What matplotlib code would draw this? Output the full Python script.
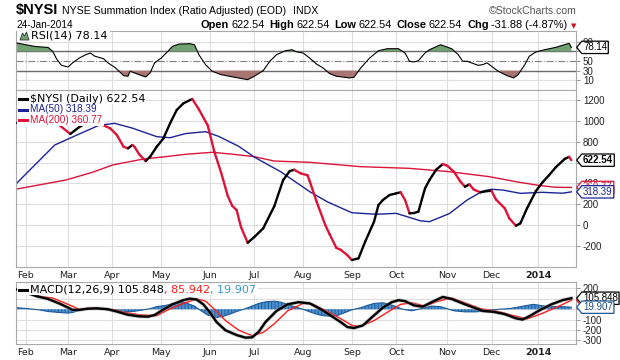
import numpy as np
import pandas as pd
import matplotlib
matplotlib.use("Agg")
import matplotlib.pyplot as plt
from matplotlib.collections import LineCollection
from matplotlib.path import Path
from matplotlib.patches import Polygon, Rectangle

# ---- data ----
holidays = ["2013-02-18", "2013-03-29", "2013-05-27", "2013-07-04", "2013-09-02",
            "2013-11-28", "2013-12-25", "2014-01-01", "2014-01-20"]

month_starts = ["2013-02-01", "2013-03-01", "2013-04-01", "2013-05-01", "2013-06-03",
                "2013-07-01", "2013-08-01", "2013-09-03", "2013-10-01", "2013-11-01",
                "2013-12-02", "2014-01-02"]
month_labels = ["Feb", "Mar", "Apr", "May", "Jun", "Jul", "Aug", "Sep", "Oct", "Nov",
                "Dec", "2014"]

price_dates = ["2013-01-28", "2013-02-06", "2013-02-14", "2013-02-25", "2013-03-04",
               "2013-03-08", "2013-03-15", "2013-03-21", "2013-03-28", "2013-04-03",
               "2013-04-08", "2013-04-10", "2013-04-12", "2013-04-15", "2013-04-17",
               "2013-04-22", "2013-04-24", "2013-04-29", "2013-05-02", "2013-05-07",
               "2013-05-10", "2013-05-15", "2013-05-21", "2013-05-24", "2013-05-31",
               "2013-06-05", "2013-06-10", "2013-06-13", "2013-06-17", "2013-06-19",
               "2013-06-21", "2013-06-26", "2013-07-01", "2013-07-08", "2013-07-15",
               "2013-07-19", "2013-07-24", "2013-07-26", "2013-07-31", "2013-08-05",
               "2013-08-06", "2013-08-09", "2013-08-15", "2013-08-19", "2013-08-22",
               "2013-08-26", "2013-08-29", "2013-09-03", "2013-09-06", "2013-09-11",
               "2013-09-17", "2013-09-19", "2013-09-23", "2013-09-26", "2013-10-01",
               "2013-10-03", "2013-10-07", "2013-10-09", "2013-10-11", "2013-10-15",
               "2013-10-18", "2013-10-22", "2013-10-25", "2013-10-30", "2013-11-01",
               "2013-11-06", "2013-11-11", "2013-11-13", "2013-11-15", "2013-11-19",
               "2013-11-22", "2013-11-27", "2013-12-02", "2013-12-04", "2013-12-10",
               "2013-12-12", "2013-12-17", "2013-12-19", "2013-12-24", "2013-12-31",
               "2014-01-06", "2014-01-09", "2014-01-14", "2014-01-21", "2014-01-23",
               "2014-01-24"]
price = [980, 1040, 1010, 960, 874, 940, 1000, 975, 928, 864,
         752, 736, 768, 750, 680, 614, 656, 752, 832, 976,
         1104, 1168, 1210, 1110, 955, 700, 505, 280, 185, 144,
         -20, -170, -115, -32, 180, 432, 518, 530, 495, 478,
         420, 230, 0, -90, -220, -238, -290, -336, -320, -160,
         32, 192, 240, 288, 304, 314, 240, 112, 115, 128,
         352, 432, 530, 585, 570, 512, 416, 368, 390, 340,
         314, 326, 328, 245, 160, 64, -7, 16, 160, 325,
         410, 480, 555, 634, 654.42, 622.54]

ma50_dates = ["2013-01-28", "2013-02-06", "2013-02-21", "2013-03-07", "2013-03-21",
              "2013-04-02", "2013-04-12", "2013-04-29", "2013-05-07", "2013-05-16",
              "2013-05-30", "2013-06-07", "2013-06-20", "2013-07-01", "2013-07-18",
              "2013-08-06", "2013-08-16", "2013-09-03", "2013-09-18", "2013-10-01",
              "2013-10-16", "2013-10-22", "2013-11-04", "2013-11-14", "2013-11-25",
              "2013-12-02", "2013-12-09", "2013-12-19", "2014-01-06", "2014-01-17",
              "2014-01-24"]
ma50 = [405, 555, 768, 864, 958, 976, 930, 848, 838, 878,
        896, 850, 755, 652, 510, 320, 222, 118, 103, 112,
        40, 32, 110, 240, 326, 343, 336, 304, 314, 305, 318.39]

ma200_dates = ["2013-01-28", "2013-02-28", "2013-03-18", "2013-04-01", "2013-04-19",
               "2013-05-03", "2013-05-16", "2013-06-04", "2013-06-17", "2013-07-01",
               "2013-07-15", "2013-08-06", "2013-09-09", "2013-10-09", "2013-11-04",
               "2013-11-29", "2013-12-17", "2014-01-03", "2014-01-14", "2014-01-24"]
ma200 = [346, 432, 506, 576, 634, 656, 679, 698, 680, 656,
         614, 602, 560, 544, 512, 464, 416, 378, 362, 360.77]

rsi_dates = ["2013-01-28", "2013-02-07", "2013-02-15", "2013-02-20", "2013-02-22",
             "2013-02-26", "2013-03-01", "2013-03-05", "2013-03-08", "2013-03-13",
             "2013-03-15", "2013-03-19", "2013-03-25", "2013-03-27", "2013-04-02",
             "2013-04-04", "2013-04-08", "2013-04-10", "2013-04-11", "2013-04-15",
             "2013-04-17", "2013-04-22", "2013-04-24", "2013-04-26", "2013-05-01",
             "2013-05-06", "2013-05-08", "2013-05-13", "2013-05-20", "2013-05-22",
             "2013-05-24", "2013-05-30", "2013-06-04", "2013-06-10", "2013-06-18",
             "2013-06-26", "2013-07-01", "2013-07-08", "2013-07-11", "2013-07-16",
             "2013-07-22", "2013-07-25", "2013-07-29", "2013-08-01", "2013-08-06",
             "2013-08-09", "2013-08-14", "2013-08-19", "2013-08-22", "2013-08-30",
             "2013-09-04", "2013-09-09", "2013-09-13", "2013-09-19", "2013-09-25",
             "2013-10-02", "2013-10-07", "2013-10-09", "2013-10-11", "2013-10-15",
             "2013-10-18", "2013-10-22", "2013-10-29", "2013-11-05", "2013-11-08",
             "2013-11-12", "2013-11-14", "2013-11-18", "2013-11-21", "2013-11-25",
             "2013-11-27", "2013-12-03", "2013-12-05", "2013-12-11", "2013-12-16",
             "2013-12-18", "2013-12-23", "2013-12-26", "2013-12-31", "2014-01-07",
             "2014-01-14", "2014-01-17", "2014-01-23", "2014-01-24"]
rsi = [87, 80, 78, 70, 53, 41, 37.6, 46, 56, 63,
       66.5, 60, 54.7, 46, 37, 28.8, 19.7, 18.4, 28.8, 25.3,
       21.8, 17, 25.3, 46, 56, 70, 80, 85, 85.7, 83.6,
       63, 42.4, 28.8, 21.8, 16.4, 11.4, 18.4, 30, 49.4, 63,
       71.2, 73.3, 69, 66.5, 56, 43.8, 35.6, 23.8, 18.4, 15,
       16.4, 35.6, 56, 71.2, 75.4, 75.4, 66.5, 49.4, 48, 50.6,
       66.5, 73.3, 83.6, 75.4, 63, 49.4, 49.4, 46, 41, 42.4,
       46, 35.6, 28.8, 19.7, 15, 21.8, 42.4, 59.7, 68.6, 73.3,
       78.2, 82.4, 86.5, 78.14]

macd_dates = ["2013-01-28", "2013-02-01", "2013-02-08", "2013-02-15", "2013-02-25",
              "2013-03-01", "2013-03-05", "2013-03-08", "2013-03-14", "2013-03-20",
              "2013-03-27", "2013-04-03", "2013-04-10", "2013-04-17", "2013-04-23",
              "2013-04-26", "2013-05-01", "2013-05-08", "2013-05-15", "2013-05-20",
              "2013-05-23", "2013-05-29", "2013-06-03", "2013-06-06", "2013-06-12",
              "2013-06-19", "2013-06-25", "2013-06-28", "2013-07-03", "2013-07-09",
              "2013-07-16", "2013-07-23", "2013-07-30", "2013-08-06", "2013-08-13",
              "2013-08-20", "2013-08-26", "2013-08-29", "2013-09-04", "2013-09-10",
              "2013-09-16", "2013-09-23", "2013-09-27", "2013-10-02", "2013-10-07",
              "2013-10-11", "2013-10-17", "2013-10-23", "2013-10-30", "2013-11-05",
              "2013-11-12", "2013-11-19", "2013-11-25", "2013-12-03", "2013-12-10",
              "2013-12-17", "2013-12-20", "2013-12-26", "2014-01-03", "2014-01-10",
              "2014-01-17", "2014-01-24"]
macd = [190, 160, 124, 99, 56, 16, -6, -6, 6, 9,
        0, -22, -53, -68, -71, -56, -16, 47, 87, 102,
        93, 47, -31, -124, -202, -248, -273, -270, -217, -124,
        -16, 47, 68, 56, 0, -68, -124, -171, -180, -155,
        -78, 16, 68, 87, 78, 37, 25, 68, 118, 99,
        56, 16, -16, -25, -47, -87, -99, -68, -6, 47,
        87, 105.848]

signal_dates = ["2013-01-28", "2013-02-01", "2013-02-11", "2013-02-20", "2013-03-01",
                "2013-03-08", "2013-03-14", "2013-03-21", "2013-04-02", "2013-04-09",
                "2013-04-17", "2013-04-29", "2013-05-06", "2013-05-15", "2013-05-23",
                "2013-05-30", "2013-06-05", "2013-06-12", "2013-06-20", "2013-06-28",
                "2013-07-08", "2013-07-15", "2013-07-23", "2013-08-01", "2013-08-07",
                "2013-08-14", "2013-08-23", "2013-09-03", "2013-09-09", "2013-09-17",
                "2013-09-26", "2013-10-03", "2013-10-10", "2013-10-18", "2013-10-28",
                "2013-11-05", "2013-11-13", "2013-11-22", "2013-12-05", "2013-12-13",
                "2013-12-24", "2014-01-03", "2014-01-14", "2014-01-24"]
signal = [200, 185, 124, 108, 47, 0, 6, 6, -6, -31,
          -53, -62, -6, 56, 99, 78, 0, -109, -202, -254,
          -223, -140, -16, 56, 53, 0, -78, -155, -164, -109,
          -16, 47, 62, 31, 78, 109, 62, 6, -22, -56,
          -93, -47, 16, 85.942]

hist_dates = ["2013-01-28", "2013-02-04", "2013-02-11", "2013-02-15", "2013-02-25",
              "2013-03-01", "2013-03-05", "2013-03-11", "2013-03-18", "2013-03-25",
              "2013-04-02", "2013-04-05", "2013-04-12", "2013-04-19", "2013-04-24",
              "2013-04-29", "2013-05-03", "2013-05-08", "2013-05-13", "2013-05-16",
              "2013-05-22", "2013-05-28", "2013-05-31", "2013-06-06", "2013-06-11",
              "2013-06-14", "2013-06-19", "2013-06-25", "2013-06-28", "2013-07-03",
              "2013-07-09", "2013-07-15", "2013-07-18", "2013-07-23", "2013-07-26",
              "2013-08-01", "2013-08-06", "2013-08-09", "2013-08-14", "2013-08-20",
              "2013-08-23", "2013-08-28", "2013-09-03", "2013-09-09", "2013-09-12",
              "2013-09-17", "2013-09-23", "2013-09-26", "2013-10-01", "2013-10-04",
              "2013-10-10", "2013-10-15", "2013-10-18", "2013-10-23", "2013-10-29",
              "2013-11-01", "2013-11-06", "2013-11-13", "2013-11-20", "2013-11-27",
              "2013-12-05", "2013-12-12", "2013-12-19", "2013-12-24", "2013-12-30",
              "2014-01-03", "2014-01-09", "2014-01-14", "2014-01-17", "2014-01-24"]
hist = [15, 6, -6, -22, -31, -37, -31, -6, 6, 0,
        -15, -25, -22, -6, 6, 25, 37, 53, 68, 62,
        31, -15, -56, -78, -68, -47, -22, 6, 31, 56,
        71, 78, 68, 47, 25, 0, -25, -47, -62, -68,
        -56, -31, -6, 15, 37, 56, 62, 47, 25, 0,
        -15, 0, 15, 31, 25, 6, -15, -25, -25, -15,
        0, 6, 25, 37, 47, 37, 25, 25, 25, 19.907]

# ---- colours ----
CRIMSON = "#dc1439"
NAVY = "#1b2396"
MACD_RED = "#ff1a1a"
HIST_BLUE = "#4b8fcd"
HIST_EDGE = "#1d5a9a"
GREEN = "#72a272"
BROWN = "#a97572"
GRID = "#dedede"

sessions = pd.bdate_range("2013-01-20", "2014-02-05", freq="C", holidays=holidays)


def pos(dates):
    return sessions.searchsorted(pd.to_datetime(dates)).astype(float)


W, H = 620, 360
fig = plt.figure(figsize=(W / 100, H / 100), dpi=100)
fig.patch.set_facecolor("white")


def fx(x):
    return x / W


def fy(y):
    return 1 - y / H


def panel(top, bottom):
    return fig.add_axes([16 / W, 1 - bottom / H, 560 / W, (bottom - top) / H])


ax_rsi = panel(31, 90)
ax_px = panel(90, 267)
ax_macd = panel(282, 344)

xmin = pos(["2013-01-28"])[0] - 0.5
xmax = pos(["2014-01-24"])[0] + 2.1
mpos = pos(month_starts)

for ax in (ax_rsi, ax_px, ax_macd):
    ax.set_xlim(xmin, xmax)
    for s in ax.spines.values():
        s.set_color("#a8a8a8")
        s.set_linewidth(0.8)
    ax.yaxis.tick_right()
    ax.tick_params(axis="y", length=3, width=0.6, color="#888888", pad=2,
                   labelsize=7, labelcolor="#222222")
    ax.set_xticks(mpos)
    ax.tick_params(axis="x", length=0, pad=3, labelsize=6.8, labelcolor="#222222")
    for xm in mpos:
        ax.axvline(xm, color=GRID, lw=0.8, zorder=0)

ax_rsi.set_xticklabels([])
for ax in (ax_px, ax_macd):
    ax.set_xticklabels(month_labels)
    ax.get_xticklabels()[-1].set_fontweight("bold")


def right_labels(ax, ticks, hidden):
    # labels sitting under a value tag are hidden, as on the original
    ax.set_yticks(ticks)
    ax.set_yticklabels(["" if t in hidden else str(t) for t in ticks],
                       family="Liberation Sans")


# ---- RSI panel ----
rx, rv = pos(rsi_dates), np.array(rsi)
ax_rsi.set_ylim(-10, 112)
right_labels(ax_rsi, [90, 70, 50, 30, 10], [70])
for lv in (90, 10):
    ax_rsi.axhline(lv, color=GRID, lw=0.8, zorder=0)
ax_rsi.axhline(70, color="#6a6a6a", lw=1.0, zorder=1)
ax_rsi.axhline(30, color="#6a6a6a", lw=1.0, zorder=1)
ax_rsi.axhline(50, color="#808080", lw=0.8, ls="-.", zorder=1)
ax_rsi.fill_between(rx, rv, 70, where=rv >= 70, interpolate=True, color=GREEN, lw=0, zorder=2)
ax_rsi.fill_between(rx, rv, 30, where=rv <= 30, interpolate=True, color=BROWN, lw=0, zorder=2)
ax_rsi.plot(rx, rv, color="black", lw=0.8, zorder=3)

# ---- price panel ----
px, pv = pos(price_dates), np.array(price, dtype=float)
ax_px.set_ylim(-403, 1296)
right_labels(ax_px, list(range(-200, 1201, 200)), [600])
for lv in range(-200, 1201, 200):
    ax_px.axhline(lv, color=GRID, lw=0.8, zorder=0)
ax_px.plot(pos(ma200_dates), ma200, color=CRIMSON, lw=1.0, zorder=2)
ax_px.plot(pos(ma50_dates), ma50, color=NAVY, lw=1.0, zorder=2)
pts = np.column_stack([px, pv])
segs = np.stack([pts[:-1], pts[1:]], axis=1)
seg_cols = np.where(np.diff(pv) >= 0, "black", CRIMSON)
ax_px.add_collection(LineCollection(segs, colors=seg_cols, linewidths=1.7,
                                    capstyle="round", joinstyle="round", zorder=3))

# ---- MACD panel ----
ax_macd.set_ylim(-334, 262)
right_labels(ax_macd, [200, 100, 0, -100, -200, -300], [100, 0])
for lv in (200, 100, 0, -100, -200, -300):
    ax_macd.axhline(lv, color=GRID, lw=0.8, zorder=0)
hx, hv = pos(hist_dates), np.array(hist)
plt.rcParams["hatch.linewidth"] = 0.7
ax_macd.fill_between(hx, 0, hv, facecolor=HIST_BLUE, edgecolor="none", zorder=1)
ax_macd.fill_between(hx, 0, hv, facecolor="none", edgecolor="#215f9e", hatch="|||||",
                     lw=0, zorder=1)
ax_macd.plot(hx, hv, color=HIST_EDGE, lw=0.8, zorder=1)
ax_macd.plot(pos(signal_dates), signal, color=MACD_RED, lw=1.0, zorder=2)
ax_macd.plot(pos(macd_dates), macd, color="#999999", lw=2.8, alpha=0.5, zorder=2.5)
ax_macd.plot(pos(macd_dates), macd, color="black", lw=1.7, zorder=3)


# ---- value tags on the right ----
def tag_box(x0, y0, width, height, mutation_size):
    pad = 0.12 * mutation_size
    x0, y0 = x0 - pad, y0 - pad
    width, height = width + 2 * pad, height + 2 * pad
    notch = height * 0.42
    return Path([(x0 - notch, y0 + height / 2), (x0, y0 + height), (x0 + width, y0 + height),
                 (x0 + width, y0), (x0, y0), (x0 - notch, y0 + height / 2)],
                [Path.MOVETO, Path.LINETO, Path.LINETO, Path.LINETO, Path.LINETO,
                 Path.CLOSEPOLY])


def tag(ax, y, text, ec, tc, weight="normal", z=10):
    ax.annotate(text, xy=(1, y), xycoords=ax.get_yaxis_transform(), xytext=(7, 0),
                textcoords="offset pixels", ha="left", va="center", fontsize=7,
                family="Liberation Sans", color=tc, fontweight=weight,
                bbox=dict(boxstyle=tag_box, fc="white", ec=ec, lw=0.9),
                zorder=z, annotation_clip=False)


tag(ax_rsi, rsi[-1], "78.14", "black", "black")
tag(ax_px, ma200[-1], "360.77", CRIMSON, CRIMSON, z=10)
tag(ax_px, ma50[-1], "318.39", NAVY, NAVY, z=11)
tag(ax_px, price[-1], "622.54", "black", "black", weight="bold", z=12)
tag(ax_macd, signal[-1], "85.942", MACD_RED, MACD_RED, z=10)
tag(ax_macd, macd[-1], "105.848", "black", "black", z=11)
tag(ax_macd, hist[-1], "19.907", HIST_EDGE, "#1f4f80", z=12)

fig.canvas.draw()
rend = fig.canvas.get_renderer()


# ---- text helpers in figure pixels ----
def put_row(x, y, pieces, ha="left", va="baseline", z=7):
    arts, widths = [], []
    for txt, kw, gap in pieces:
        t = fig.text(0, fy(y), txt, va=va, zorder=z, **kw)
        arts.append(t)
        widths.append(t.get_window_extent(rend).width + gap)
    cx = x - sum(widths) if ha == "right" else x
    for a, w in zip(arts, widths):
        a.set_x(cx / W)
        cx += w
    return cx


def white_box(x0, x1, y0, y1):
    fig.patches.append(Rectangle((fx(x0), fy(y1)), (x1 - x0) / W, (y1 - y0) / H,
                                 transform=fig.transFigure, fc="white", ec="none", zorder=5))


def icon_line(y, col):
    fig.lines.append(plt.Line2D([fx(19), fx(27)], [fy(y), fy(y)], color=col, lw=2.2,
                                transform=fig.transFigure, zorder=6))


hdr = dict(family="Liberation Sans")
put_row(16, 14, [("$NYSI", dict(fontsize=10.5, fontweight="bold", **hdr), 4),
                 ("NYSE Summation Index (Ratio Adjusted) (EOD)", dict(fontsize=7.6, **hdr), 6),
                 ("INDX", dict(fontsize=7.6, **hdr), 0)])
fig.text(577 / W, fy(14), "\u00a9StockCharts.com", ha="right", va="baseline",
         fontsize=7.6, color="#555555", **hdr)
fig.text(16 / W, fy(28), "24-Jan-2014", va="baseline", fontsize=7.2, **hdr)
b = dict(fontsize=7.9, fontweight="bold", **hdr)
n = dict(fontsize=7.9, **hdr)
put_row(567, 28, [("Open", b, 2), ("622.54", n, 5), ("High", b, 2), ("622.54", n, 5),
                  ("Low", b, 2), ("622.54", n, 5), ("Close", b, 2), ("622.54", n, 5),
                  ("Chg", b, 2), ("-31.88 (-4.87%)", n, 0)], ha="right")
fig.text(fx(571), fy(28), "\u25bc", va="baseline", fontsize=5, color="#d01020")

# RSI legend with small mountain icon
end = put_row(31, 36, [("RSI(14) 78.14", dict(fontsize=8), 0)], va="center")
white_box(17, end + 2, 31.5, 41)
fig.patches.append(Polygon([(fx(20), fy(40)), (fx(22.5), fy(33)), (fx(24.5), fy(36)),
                            (fx(26.5), fy(32)), (fx(29), fy(40))], closed=True,
                           transform=fig.transFigure, fc=GREEN, ec="#333333", lw=0.6,
                           zorder=6))

# price legend
rows = [("$NYSI (Daily) 622.54", "black", 98.5, dict(fontsize=8)),
        ("MA(50) 318.39", NAVY, 109.5, dict(fontsize=7.2, family="Liberation Sans")),
        ("MA(200) 360.77", CRIMSON, 120.5, dict(fontsize=7.2, family="Liberation Sans"))]
for label, col, yy, kw in rows:
    end = put_row(30, yy, [(label, dict(color=col, **kw), 0)], va="center")
    white_box(17, end + 2, yy - 5.5, yy + 5.5)
    icon_line(yy, col)

# MACD legend
end = put_row(30, 289.5, [("MACD(12,26,9) 105.848", dict(fontsize=8, color="black"), 0),
                          (", 85.942", dict(fontsize=8, color=MACD_RED), 0),
                          (", 19.907", dict(fontsize=8, color="#3a98d0"), 0)], va="center")
white_box(17, end + 2, 284, 295)
icon_line(289.5, "black")

fig.savefig("out.png", dpi=100)
